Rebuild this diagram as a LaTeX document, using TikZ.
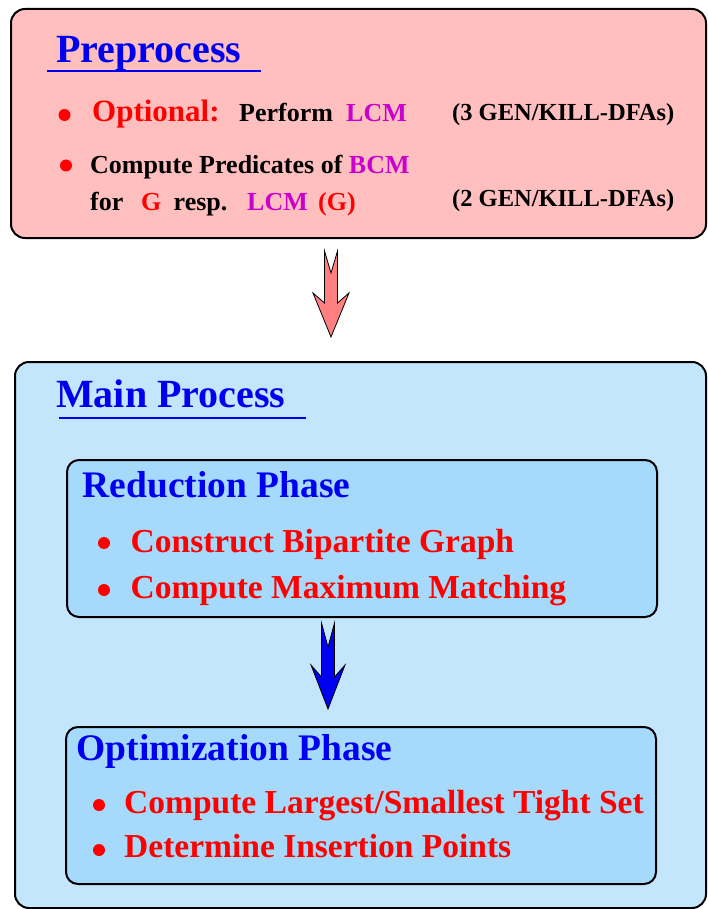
\documentclass[tikz,border=0pt]{standalone}
\usepackage{fontspec}
\setmainfont{Liberation Serif}
\usepackage{tikz}
\usetikzlibrary{arrows.meta,positioning}

\definecolor{prefill}{RGB}{255,191,191}
\definecolor{mainfill}{RGB}{196,230,252}
\definecolor{phasefill}{RGB}{166,218,252}
\definecolor{headblue}{RGB}{0,0,240}
\definecolor{itemred}{RGB}{255,0,0}
\definecolor{lcmmagenta}{RGB}{204,0,204}
\definecolor{arrowpink}{RGB}{255,128,128}

\tikzset{
    box/.style={draw, line width=2pt, rounded corners=14pt, anchor=north west, inner sep=0},
    txt/.style={anchor=base west, inner sep=0, font=\fontsize{#1}{#1}\selectfont\bfseries},
    bul/.style={circle, fill=itemred, inner sep=0, minimum size=12pt},
}

\begin{document}
\begin{tikzpicture}[x=1pt, y=-1pt, >=Stealth]
    \useasboundingbox (0,0) rectangle (707,909);

    % Preprocess
    \node[box, fill=prefill, minimum width=695pt, minimum height=229pt] (pre) at (10,8) {};
    \node[txt=40, text=headblue] (pretitle) at (56,63) {Preprocess};
    \draw[headblue, line width=2.5pt] (47,71) -- (261,71);

    \node[bul] (b1) at (64.5,115) {};
    \node[txt=31, text=itemred] (optional) at (92,122) {Optional:};
    \node[txt=26] (perform) at (239,122) {Perform};
    \node[txt=26, text=lcmmagenta] (lcm1) at (346,122) {LCM};
    \node[txt=24.5] (dfa3) at (452,121) {(3 GEN/KILL-DFAs)};

    \node[bul] (b2) at (66,165.5) {};
    \node[txt=26] (predicates) at (90,174) {Compute Predicates of \textcolor{lcmmagenta}{BCM}};
    \node[txt=26] (for) at (90,211) {for};
    \node[txt=26, text=itemred] (g) at (141,211) {G};
    \node[txt=26] (resp) at (173.5,211) {resp.};
    \node[txt=26, text=lcmmagenta] (lcm2) at (247,211) {LCM};
    \node[txt=26, text=itemred] (lcmg) at (318,211) {(G)};
    \node[txt=24.5] (dfa2) at (452,207) {(2 GEN/KILL-DFAs)};

    % Arrow down
    \draw[fill=arrowpink, line width=0.8pt, line join=miter] (324.5,251) -- (331,273) -- (337.5,251) -- (337.5,303) -- (349,293)
        -- (331,337) -- (313,293) -- (324.5,303) -- cycle;

    % Main Process
    \node[box, fill=mainfill, minimum width=691pt, minimum height=546pt] (main) at (14,361) {};
    \node[txt=40, text=headblue] (maintitle) at (56,407) {Main Process};
    \draw[headblue, line width=2.5pt] (59,418) -- (306,418);

    % Reduction Phase
    \node[box, fill=phasefill, rounded corners=12pt, minimum width=590pt, minimum height=157pt] (red) at (66,459) {};
    \node[txt=37.5, text=headblue] (redtitle) at (82.5,497) {Reduction Phase};
    \node[bul] (b3) at (104,543) {};
    \node[txt=33.5, text=itemred] (bipartite) at (130.5,552) {Construct Bipartite Graph};
    \node[bul] (b4) at (104,590) {};
    \node[txt=33.5, text=itemred] (matching) at (130.5,598) {Compute Maximum Matching};

    \draw[fill=headblue, line width=0.8pt, line join=miter] (321.5,623) -- (328,647) -- (334.5,623) -- (334.5,677) -- (345,665)
        -- (328,709) -- (311,665) -- (321.5,677) -- cycle;

    % Optimization Phase
    \node[box, fill=phasefill, rounded corners=12pt, minimum width=590pt, minimum height=157pt] (opt) at (65,726) {};
    \node[txt=37.5, text=headblue] (opttitle) at (76.5,760) {Optimization Phase};
    \node[bul] (b5) at (99,805) {};
    \node[txt=33.5, text=itemred] (tightset) at (124,813) {Compute Largest/Smallest Tight Set};
    \node[bul] (b6) at (99,850) {};
    \node[txt=33.5, text=itemred] (insertion) at (124,857) {Determine Insertion Points};
\end{tikzpicture}
\end{document}
